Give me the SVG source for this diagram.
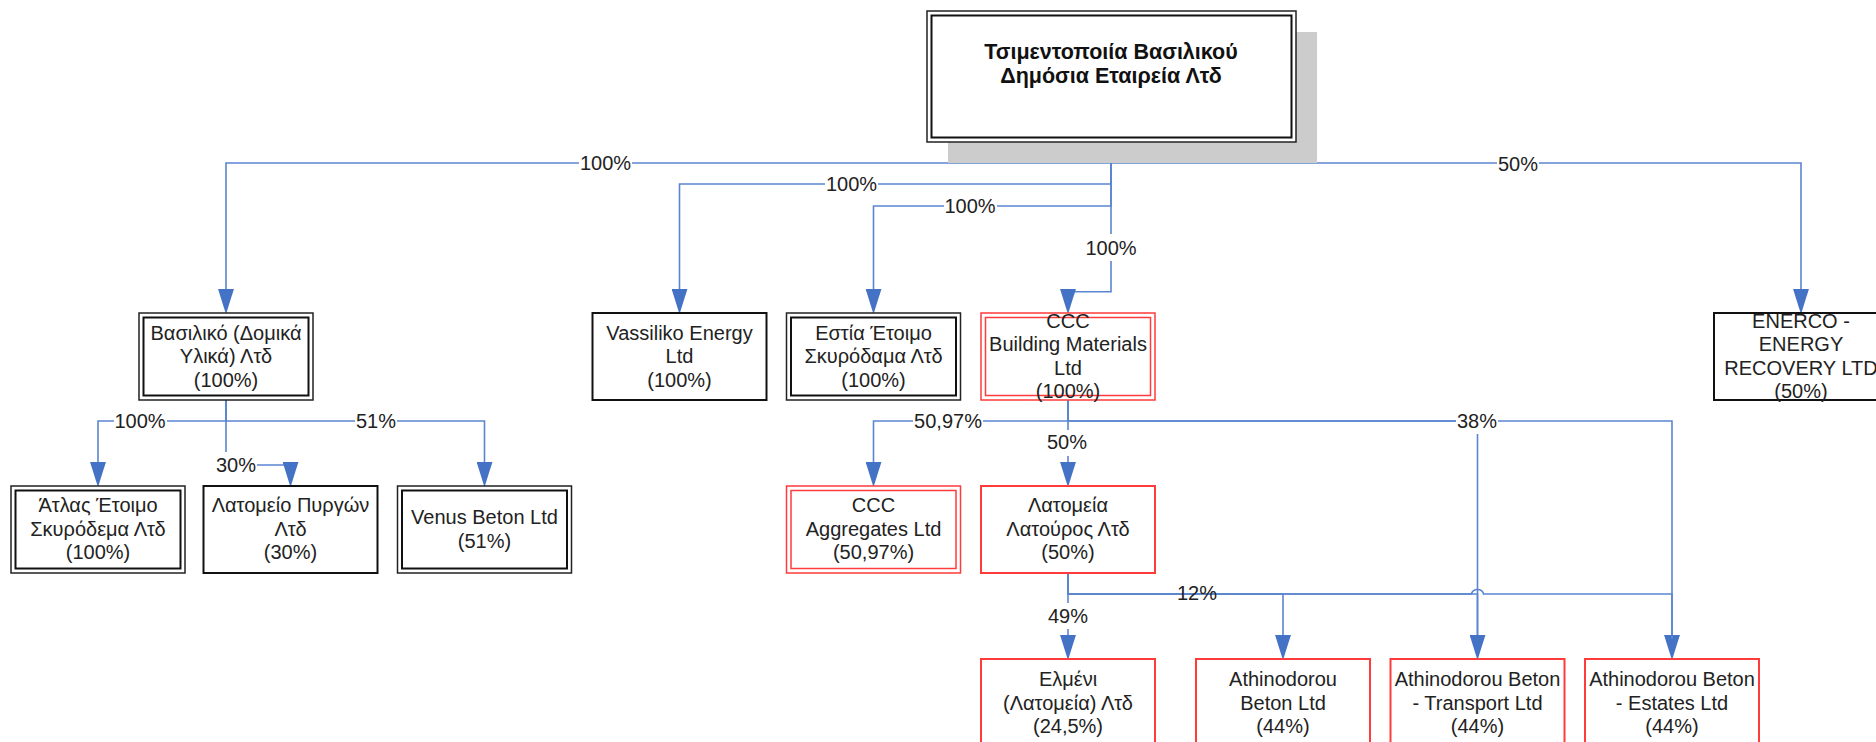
<svg xmlns="http://www.w3.org/2000/svg" width="1876" height="742" viewBox="0 0 1876 742">
<defs>
<style>
.conn{fill:none;stroke:#5a85cf;stroke-width:1.6}
.t{font-family:"Liberation Sans",Arial,sans-serif;font-size:20px;fill:#222;text-anchor:middle}
.tb{font-family:"Liberation Sans",Arial,sans-serif;font-size:21.5px;font-weight:bold;fill:#111;text-anchor:middle}
.bg{fill:#fff}
.bo{fill:#fff;stroke:#222;stroke-width:1.5}
.bi{fill:none;stroke:#111;stroke-width:2}
.ro{fill:#fff;stroke:#ff3b3b;stroke-width:1.5}
.ri{fill:none;stroke:#ff3b3b;stroke-width:1.5}
.sb{fill:#fff;stroke:#111;stroke-width:2}
.sr{fill:#fff;stroke:#ff3b3b;stroke-width:2}
</style>
<marker id="arr" markerUnits="userSpaceOnUse" markerWidth="26" markerHeight="16" viewBox="0 0 24 15" refX="4" refY="7.5" orient="auto">
<path d="M0,0 L24,7.5 L0,15 z" fill="#4472c4"/>
</marker>
</defs>
<rect width="1876" height="742" fill="#fff"/>

<g id="connectors">
<path class="conn" marker-end="url(#arr)" d="M1111,142 V163 H226 V293"/>
<path class="conn" marker-end="url(#arr)" d="M1111,142 V163 H1801 V293"/>
<path class="conn" marker-end="url(#arr)" d="M1111,142 V184 H679.5 V293"/>
<path class="conn" marker-end="url(#arr)" d="M1111,142 V206 H873.5 V293"/>
<path class="conn" marker-end="url(#arr)" d="M1111,142 V291.7 H1068 V293"/>
<path class="conn" marker-end="url(#arr)" d="M226,400 V421 H98 V466"/>
<path class="conn" marker-end="url(#arr)" d="M226,400 V421 H484.5 V466"/>
<path class="conn" marker-end="url(#arr)" d="M226,400 V465 H290.5 V466"/>
<path class="conn" marker-end="url(#arr)" d="M1068,400 V421 H873.5 V466"/>
<path class="conn" marker-end="url(#arr)" d="M1068,400 V466"/>
<path class="conn" d="M1068,400 V421 H1477.5 V639"/>
<path class="conn" marker-end="url(#arr)" d="M1068,400 V421 H1672 V639"/>
<path class="conn" marker-end="url(#arr)" d="M1068,573 V639"/>
<path class="conn" marker-end="url(#arr)" d="M1068,573 V594 H1283 V639"/>
<path class="conn" marker-end="url(#arr)" d="M1068,573 V594 H1477.5 V639"/>
<path class="conn" d="M1068,573 V594 H1471.5 a6,4.5 0 0 1 12,0 H1672 V639"/>
<g id="labels">
<rect class="bg" x="579" y="151" width="53" height="24"/><text class="t" x="605.5" y="170">100%</text>
<rect class="bg" x="1497" y="152" width="42" height="24"/><text class="t" x="1518" y="171">50%</text>
<rect class="bg" x="825" y="172" width="53" height="24"/><text class="t" x="851.5" y="191">100%</text>
<rect class="bg" x="944" y="194" width="53" height="24"/><text class="t" x="970" y="213">100%</text>
<rect class="bg" x="1084" y="234" width="54" height="27"/><text class="t" x="1111" y="255">100%</text>
<rect class="bg" x="114" y="409" width="53" height="24"/><text class="t" x="140" y="428">100%</text>
<rect class="bg" x="355" y="409" width="42" height="24"/><text class="t" x="376" y="428">51%</text>
<rect class="bg" x="215" y="452" width="42" height="26"/><text class="t" x="236" y="472">30%</text>
<rect class="bg" x="913" y="409" width="70" height="24"/><text class="t" x="948" y="428">50,97%</text>
<rect class="bg" x="1046" y="430" width="42" height="26"/><text class="t" x="1067" y="449">50%</text>
<rect class="bg" x="1456" y="409" width="42" height="25"/><text class="t" x="1477" y="428">38%</text>
<text class="t" x="1197" y="600">12%</text>
<rect class="bg" x="1047" y="603" width="42" height="26"/><text class="t" x="1068" y="623">49%</text>
</g>
</g>

<g id="root">
<rect x="948" y="32" width="369" height="131" fill="#cccccc"/>
<rect class="bo" x="927" y="11" width="369" height="131"/>
<rect class="bi" x="931.5" y="15.5" width="360" height="122"/>
<text class="tb" x="1111" y="59">Τσιμεντοποιία Βασιλικού</text>
<text class="tb" x="1111" y="83">Δημόσια Εταιρεία Λτδ</text>
</g>

<g id="vasiliko">
<rect class="bo" x="139" y="313" width="174" height="87"/>
<rect class="bi" x="143.5" y="317.5" width="165" height="78"/>
<text class="t" x="226" y="339.5">Βασιλικό (Δομικά</text>
<text class="t" x="226" y="363">Υλικά) Λτδ</text>
<text class="t" x="226" y="386.5">(100%)</text>
</g>

<g id="vassiliko-energy">
<rect class="sb" x="592.5" y="313" width="174" height="87"/>
<text class="t" x="679.5" y="339.5">Vassiliko Energy</text>
<text class="t" x="679.5" y="363">Ltd</text>
<text class="t" x="679.5" y="386.5">(100%)</text>
</g>

<g id="estia">
<rect class="bo" x="786.5" y="313" width="174" height="87"/>
<rect class="bi" x="791" y="317.5" width="165" height="78"/>
<text class="t" x="873.5" y="339.5">Εστία Έτοιμο</text>
<text class="t" x="873.5" y="363">Σκυρόδαμα Λτδ</text>
<text class="t" x="873.5" y="386.5">(100%)</text>
</g>

<g id="ccc-building">
<rect class="ro" x="981" y="313" width="174" height="87"/>
<rect class="ri" x="985.5" y="317.5" width="165" height="78"/>
<text class="t" x="1068" y="327.5">CCC</text>
<text class="t" x="1068" y="351">Building Materials</text>
<text class="t" x="1068" y="374.5">Ltd</text>
<text class="t" x="1068" y="398">(100%)</text>
</g>

<g id="enerco">
<rect class="sb" x="1714" y="313" width="174" height="87"/>
<text class="t" x="1801" y="327.5">ENERCO -</text>
<text class="t" x="1801" y="351">ENERGY</text>
<text class="t" x="1801" y="374.5">RECOVERY LTD</text>
<text class="t" x="1801" y="398">(50%)</text>
</g>

<g id="atlas">
<rect class="bo" x="11" y="486" width="174" height="87"/>
<rect class="bi" x="15.5" y="490.5" width="165" height="78"/>
<text class="t" x="98" y="512">Άτλας Έτοιμο</text>
<text class="t" x="98" y="535.5">Σκυρόδεμα Λτδ</text>
<text class="t" x="98" y="559">(100%)</text>
</g>

<g id="pyrgon">
<rect class="sb" x="203.5" y="486" width="174" height="87"/>
<text class="t" x="290.5" y="512">Λατομείο Πυργών</text>
<text class="t" x="290.5" y="535.5">Λτδ</text>
<text class="t" x="290.5" y="559">(30%)</text>
</g>

<g id="venus">
<rect class="bo" x="397.5" y="486" width="174" height="87"/>
<rect class="bi" x="402" y="490.5" width="165" height="78"/>
<text class="t" x="484.5" y="524">Venus Beton Ltd</text>
<text class="t" x="484.5" y="547.5">(51%)</text>
</g>

<g id="ccc-aggregates">
<rect class="ro" x="786.5" y="486" width="174" height="87"/>
<rect class="ri" x="791" y="490.5" width="165" height="78"/>
<text class="t" x="873.5" y="512">CCC</text>
<text class="t" x="873.5" y="535.5">Aggregates Ltd</text>
<text class="t" x="873.5" y="559">(50,97%)</text>
</g>

<g id="latouros">
<rect class="sr" x="981" y="486" width="174" height="87"/>
<text class="t" x="1068" y="512">Λατομεία</text>
<text class="t" x="1068" y="535.5">Λατούρος Λτδ</text>
<text class="t" x="1068" y="559">(50%)</text>
</g>

<g id="elmeni">
<rect class="sr" x="981" y="659" width="174" height="87"/>
<text class="t" x="1068" y="686">Ελμένι</text>
<text class="t" x="1068" y="709.5">(Λατομεία) Λτδ</text>
<text class="t" x="1068" y="733">(24,5%)</text>
</g>

<g id="athinodorou-beton">
<rect class="sr" x="1196" y="659" width="174" height="87"/>
<text class="t" x="1283" y="686">Athinodorou</text>
<text class="t" x="1283" y="709.5">Beton Ltd</text>
<text class="t" x="1283" y="733">(44%)</text>
</g>

<g id="athinodorou-transport">
<rect class="sr" x="1390.5" y="659" width="174" height="87"/>
<text class="t" x="1477.5" y="686">Athinodorou Beton</text>
<text class="t" x="1477.5" y="709.5">- Transport Ltd</text>
<text class="t" x="1477.5" y="733">(44%)</text>
</g>

<g id="athinodorou-estates">
<rect class="sr" x="1585" y="659" width="174" height="87"/>
<text class="t" x="1672" y="686">Athinodorou Beton</text>
<text class="t" x="1672" y="709.5">- Estates Ltd</text>
<text class="t" x="1672" y="733">(44%)</text>
</g>
</svg>
